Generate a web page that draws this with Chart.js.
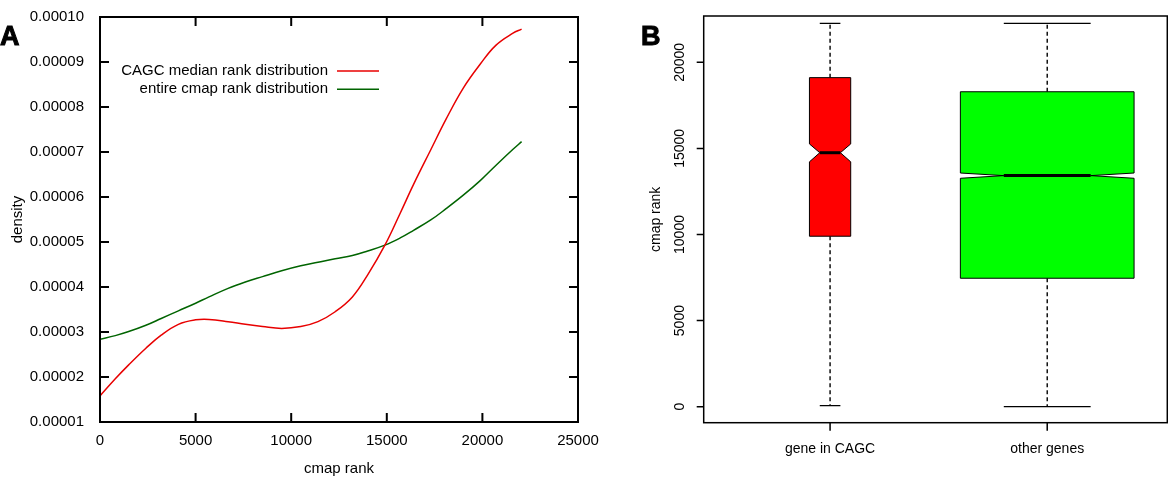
<!DOCTYPE html>
<html>
<head>
<meta charset="utf-8">
<script src="https://cdn.jsdelivr.net/npm/chart.js@4.4.0/dist/chart.umd.min.js"></script>
<style>
  html, body { margin: 0; padding: 0; background: #fff; }
  #wrap { position: relative; width: 1168px; height: 480px; }
  #densityBox { position: absolute; left: 0; top: 0; width: 600px; height: 480px; }
  #rankBox { position: absolute; left: 600px; top: 0; width: 568px; height: 480px; }
</style>
</head>
<body>
<div id="wrap">
  <div id="densityBox"><canvas id="densityChart"></canvas></div>
  <div id="rankBox"><canvas id="rankChart"></canvas></div>
</div>
<script>
// --- Panel A: density curves ---
const rankGrid = [0, 800, 1500, 2400, 3200, 4100, 5000, 5700, 6700, 7600, 8500, 9500, 10500,
  11400, 12300, 13200, 14000, 14900, 15700, 16400, 17300, 18100, 19000, 19900, 20700, 21600, 22050];
const cagcDensity = [1.58e-5, 1.96e-5, 2.27e-5, 2.64e-5, 2.93e-5, 3.17e-5, 3.27e-5, 3.28e-5, 3.23e-5,
  3.17e-5, 3.12e-5, 3.08e-5, 3.12e-5, 3.23e-5, 3.45e-5, 3.78e-5, 4.27e-5, 4.93e-5, 5.64e-5, 6.28e-5,
  7.05e-5, 7.73e-5, 8.42e-5, 8.96e-5, 9.37e-5, 9.64e-5, 9.73e-5];
const cmapDensity = [2.84e-5, 2.92e-5, 3.01e-5, 3.15e-5, 3.30e-5, 3.47e-5, 3.64e-5, 3.78e-5, 3.97e-5,
  4.11e-5, 4.23e-5, 4.36e-5, 4.47e-5, 4.55e-5, 4.63e-5, 4.70e-5, 4.80e-5, 4.93e-5, 5.09e-5, 5.26e-5,
  5.49e-5, 5.74e-5, 6.04e-5, 6.37e-5, 6.70e-5, 7.06e-5, 7.23e-5];
const seriesNames = ['CAGC median rank distribution', 'entire cmap rank distribution'];

// --- Panel B: box plot ---
const groups = ['gene in CAGC', 'other genes'];
const whiskerLow = [60, 0];
const q1 = [9900, 7460];
const median = [14750, 13420];
const q3 = [19110, 18290];
const whiskerHigh = [22260, 22260];
const notchLow = [14220, 13265];
const notchHigh = [15260, 13570];
const rankTicks = [0, 5000, 10000, 15000, 20000];

const FONT = '"Liberation Sans", Arial, sans-serif';
Chart.defaults.font.family = FONT;
Chart.defaults.color = '#000';

// Buchstabe oben links
const panelLetter = {
  id: 'panelLetter',
  afterDraw(chart, args, opts) {
    const ctx = chart.ctx;
    ctx.save();
    ctx.font = 'bold 27px ' + FONT;
    ctx.fillStyle = '#000';
    ctx.strokeStyle = '#000';
    ctx.lineWidth = 1;
    ctx.fillText(opts.text, opts.x, opts.y);
    ctx.strokeText(opts.text, opts.x, opts.y);
    ctx.restore();
  }
};

// gnuplot-Rahmen mit Ticks nach innen
const gnuplotFrame = {
  id: 'gnuplotFrame',
  afterDatasetsDraw(chart) {
    const {ctx, chartArea: a, scales: {x, y}} = chart;
    const len = 9;
    ctx.save();
    ctx.strokeStyle = '#000';
    ctx.lineWidth = 2;
    ctx.strokeRect(a.left, a.top, a.right - a.left, a.bottom - a.top);
    ctx.beginPath();
    x.ticks.forEach(t => {
      const px = x.getPixelForValue(t.value);
      ctx.moveTo(px, a.bottom); ctx.lineTo(px, a.bottom - len);
      ctx.moveTo(px, a.top); ctx.lineTo(px, a.top + len);
    });
    y.ticks.forEach(t => {
      const py = y.getPixelForValue(t.value);
      ctx.moveTo(a.left, py); ctx.lineTo(a.left + len, py);
      ctx.moveTo(a.right, py); ctx.lineTo(a.right - len, py);
    });
    ctx.stroke();
    ctx.restore();
  }
};

// Legende: Text rechtsbündig, Linie rechts daneben
const lineLegend = {
  id: 'lineLegend',
  afterDraw(chart) {
    const {ctx, chartArea: a} = chart;
    ctx.save();
    ctx.font = '15px ' + FONT;
    ctx.textAlign = 'right';
    ctx.textBaseline = 'middle';
    chart.data.datasets.forEach((ds, i) => {
      const yy = a.top + 54 + i * 18.3;
      ctx.fillStyle = '#000';
      ctx.fillText(ds.label, a.left + 228, yy);
      ctx.strokeStyle = ds.borderColor;
      ctx.lineWidth = 1.5;
      ctx.beginPath();
      ctx.moveTo(a.left + 237, yy);
      ctx.lineTo(a.left + 279, yy);
      ctx.stroke();
    });
    ctx.restore();
  }
};

new Chart(document.getElementById('densityChart'), {
  type: 'line',
  data: {
    datasets: [
      {
        label: seriesNames[0],
        data: rankGrid.map((r, i) => ({x: r, y: cagcDensity[i]})),
        borderColor: 'rgb(232,0,0)',
        borderWidth: 1.5,
        pointRadius: 0,
        tension: 0.4
      },
      {
        label: seriesNames[1],
        data: rankGrid.map((r, i) => ({x: r, y: cmapDensity[i]})),
        borderColor: 'rgb(0,100,0)',
        borderWidth: 1.5,
        pointRadius: 0,
        tension: 0.4
      }
    ]
  },
  options: {
    responsive: true,
    maintainAspectRatio: false,
    animation: false,
    layout: { padding: { top: 17, right: 22, left: 0, bottom: 0 } },
    plugins: {
      legend: { display: false },
      tooltip: { enabled: false },
      panelLetter: { text: 'A', x: 0, y: 45 }
    },
    scales: {
      x: {
        type: 'linear',
        min: 0, max: 25000,
        grid: { display: false },
        border: { display: false },
        ticks: { stepSize: 5000, padding: 2, font: { size: 15 }, callback: v => String(v) },
        title: { display: true, text: 'cmap rank', font: { size: 15 }, padding: { top: 0, bottom: 2 } },
        afterFit: s => { s.height = 58; s.paddingLeft = 0; s.paddingRight = 0; }
      },
      y: {
        min: 0.00001, max: 0.0001,
        grid: { display: false },
        border: { display: false },
        ticks: { stepSize: 0.00001, padding: 8, font: { size: 15 }, callback: v => Number(v).toFixed(5) },
        title: { display: true, text: 'density', font: { size: 15 }, padding: { top: 9, bottom: 0 } },
        afterFit: s => { s.width = 100; }
      }
    }
  },
  plugins: [gnuplotFrame, lineLegend, panelLetter]
});

// Boxplot mit Kerben (R-Stil)
const notchedBoxes = {
  id: 'notchedBoxes',
  afterDatasetsDraw(chart, args, opts) {
    const {ctx, chartArea: a, scales: {x, y}} = chart;
    const Y = v => y.getPixelForValue(v);
    ctx.save();
    ctx.strokeStyle = '#000';
    groups.forEach((g, i) => {
      const cx = x.getPixelForValue(i + 1);
      const hw = x.getPixelForValue(i + 1 + opts.widths[i] / 2) - cx;
      const nw = hw * 0.5;
      // Whisker gestrichelt
      ctx.lineWidth = 1.4;
      ctx.setLineDash([4, 3]);
      ctx.beginPath();
      ctx.moveTo(cx, Y(q3[i])); ctx.lineTo(cx, Y(whiskerHigh[i]));
      ctx.moveTo(cx, Y(q1[i])); ctx.lineTo(cx, Y(whiskerLow[i]));
      ctx.stroke();
      ctx.setLineDash([]);
      ctx.lineWidth = 1.2;
      ctx.beginPath();
      ctx.moveTo(cx - nw, Y(whiskerHigh[i])); ctx.lineTo(cx + nw, Y(whiskerHigh[i]));
      ctx.moveTo(cx - nw, Y(whiskerLow[i])); ctx.lineTo(cx + nw, Y(whiskerLow[i]));
      ctx.stroke();
      // Box
      ctx.beginPath();
      ctx.moveTo(cx - hw, Y(q1[i]));
      ctx.lineTo(cx + hw, Y(q1[i]));
      ctx.lineTo(cx + hw, Y(notchLow[i]));
      ctx.lineTo(cx + nw, Y(median[i]));
      ctx.lineTo(cx + hw, Y(notchHigh[i]));
      ctx.lineTo(cx + hw, Y(q3[i]));
      ctx.lineTo(cx - hw, Y(q3[i]));
      ctx.lineTo(cx - hw, Y(notchHigh[i]));
      ctx.lineTo(cx - nw, Y(median[i]));
      ctx.lineTo(cx - hw, Y(notchLow[i]));
      ctx.closePath();
      ctx.fillStyle = opts.colors[i];
      ctx.fill();
      ctx.lineWidth = 1;
      ctx.stroke();
      // Median
      ctx.lineWidth = 3;
      ctx.beginPath();
      ctx.moveTo(cx - nw, Y(median[i])); ctx.lineTo(cx + nw, Y(median[i]));
      ctx.stroke();
    });
    // Rahmen und Ticks nach aussen
    ctx.lineWidth = 1.5;
    ctx.strokeRect(a.left, a.top, a.right - a.left, a.bottom - a.top);
    ctx.beginPath();
    y.ticks.forEach(t => {
      const py = y.getPixelForValue(t.value);
      ctx.moveTo(a.left, py); ctx.lineTo(a.left - 7, py);
    });
    x.ticks.forEach(t => {
      const px = x.getPixelForValue(t.value);
      ctx.moveTo(px, a.bottom); ctx.lineTo(px, a.bottom + 8);
    });
    ctx.stroke();
    // gedrehte y-Beschriftung
    ctx.font = '14px ' + FONT;
    ctx.fillStyle = '#000';
    ctx.textAlign = 'center';
    ctx.textBaseline = 'middle';
    y.ticks.forEach(t => {
      const py = y.getPixelForValue(t.value);
      ctx.save();
      ctx.translate(80, py);
      ctx.rotate(-Math.PI / 2);
      ctx.fillText(String(t.value), 0, 0);
      ctx.restore();
    });
    ctx.restore();
  }
};

new Chart(document.getElementById('rankChart'), {
  type: 'scatter',
  data: {
    datasets: [{
      data: groups.map((g, i) => ({x: i + 1, y: median[i]})),
      pointRadius: 0
    }]
  },
  options: {
    responsive: true,
    maintainAspectRatio: false,
    animation: false,
    layout: { padding: { top: 16, right: 0.7, left: 0, bottom: 0 } },
    plugins: {
      legend: { display: false },
      tooltip: { enabled: false },
      panelLetter: { text: 'B', x: 41, y: 45 },
      notchedBoxes: { widths: [0.19, 0.8], colors: ['#ff0000', '#00ff00'] }
    },
    scales: {
      x: {
        type: 'linear',
        min: 0.418, max: 2.553,
        grid: { display: false },
        border: { display: false },
        afterBuildTicks: s => { s.ticks = groups.map((g, i) => ({value: i + 1})); },
        ticks: { padding: 10, font: { size: 14 }, callback: v => groups[v - 1] },
        afterFit: s => { s.height = 57.3; }
      },
      y: {
        min: -929, max: 22689,
        grid: { display: false },
        border: { display: false },
        afterBuildTicks: s => { s.ticks = rankTicks.map(v => ({value: v})); },
        ticks: { display: false },
        title: { display: true, text: 'cmap rank', font: { size: 14 }, padding: { top: 47.3, bottom: 0 } },
        afterFit: s => { s.width = 103.7; }
      }
    }
  },
  plugins: [notchedBoxes, panelLetter]
});
</script>
</body>
</html>
